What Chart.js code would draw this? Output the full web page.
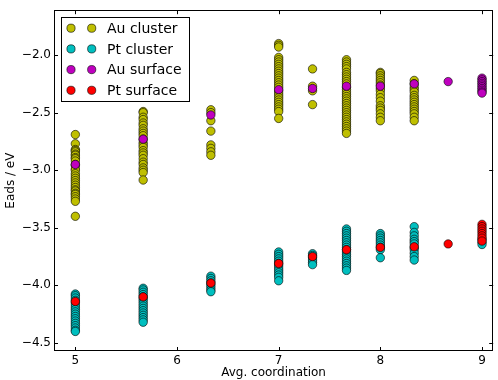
<!DOCTYPE html>
<html>
<head>
<meta charset="utf-8">
<script src="https://cdn.jsdelivr.net/npm/chart.js@4/dist/chart.umd.min.js"></script>
<style>
  html, body { margin: 0; padding: 0; background: #fff; }
  canvas { display: block; }
</style>
</head>
<body>
<canvas id="eads" width="498" height="380"></canvas>
<script>
// x positions (average coordination) shared by every series
const coordination = [5, 5.667, 6.333, 7, 7.333, 7.667, 8, 8.333, 8.667, 9];

// Eads values (eV) per coordination column
const auCluster = [
  [-2.69, -2.77, -2.82, -2.83, -2.84, -2.86, -2.87, -2.89, -2.90, -2.92, -2.95, -2.96, -2.99, -3.00, -3.03, -3.05, -3.07, -3.09, -3.11, -3.13, -3.15, -3.17, -3.18, -3.20, -3.21, -3.23, -3.25, -3.27, -3.40],
  [-2.49, -2.50, -2.54, -2.56, -2.59, -2.61, -2.64, -2.66, -2.68, -2.70, -2.73, -2.76, -2.78, -2.80, -2.83, -2.85, -2.87, -2.90, -2.93, -2.95, -2.98, -3.00, -3.02, -3.085],
  [-2.475, -2.50, -2.57, -2.66, -2.78, -2.81, -2.84, -2.87],
  [-1.90, -1.915, -1.93, -2.02, -2.04, -2.06, -2.08, -2.10, -2.12, -2.14, -2.16, -2.18, -2.20, -2.22, -2.24, -2.26, -2.28, -2.31, -2.33, -2.35, -2.37, -2.39, -2.41, -2.43, -2.45, -2.47, -2.49, -2.55],
  [-2.12, -2.27, -2.31, -2.43],
  [-2.04, -2.06, -2.08, -2.10, -2.12, -2.15, -2.17, -2.19, -2.21, -2.23, -2.25, -2.28, -2.30, -2.32, -2.34, -2.36, -2.38, -2.40, -2.42, -2.44, -2.46, -2.48, -2.50, -2.52, -2.54, -2.56, -2.58, -2.60, -2.62, -2.64, -2.66, -2.68],
  [-2.15, -2.16, -2.18, -2.20, -2.22, -2.24, -2.26, -2.29, -2.31, -2.34, -2.37, -2.40, -2.44, -2.46, -2.48, -2.51, -2.54, -2.57],
  [-2.22, -2.25, -2.28, -2.30, -2.32, -2.35, -2.37, -2.39, -2.41, -2.43, -2.45, -2.47, -2.49, -2.51, -2.54, -2.57],
  [],
  []
];
const ptCluster = [
  [-4.075, -4.09, -4.11, -4.13, -4.15, -4.17, -4.19, -4.21, -4.23, -4.25, -4.27, -4.29, -4.31, -4.33, -4.35, -4.37, -4.39, -4.40],
  [-4.025, -4.04, -4.06, -4.08, -4.10, -4.12, -4.14, -4.16, -4.18, -4.20, -4.22, -4.24, -4.26, -4.28, -4.30, -4.32],
  [-3.92, -3.94, -3.96, -3.98, -4.00, -4.02, -4.04, -4.055],
  [-3.71, -3.73, -3.75, -3.77, -3.79, -3.81, -3.83, -3.85, -3.87, -3.89, -3.91, -3.93, -3.96],
  [-3.725, -3.74, -3.76, -3.78, -3.80, -3.82],
  [-3.51, -3.53, -3.55, -3.57, -3.59, -3.61, -3.63, -3.65, -3.67, -3.69, -3.71, -3.73, -3.75, -3.77, -3.79, -3.81, -3.83, -3.85, -3.87],
  [-3.55, -3.57, -3.59, -3.61, -3.63, -3.65, -3.67, -3.69, -3.76],
  [-3.49, -3.54, -3.57, -3.60, -3.62, -3.64, -3.67, -3.69, -3.72, -3.75, -3.78],
  [],
  [-3.60, -3.625, -3.645]
];
const auSurface = [
  [-2.95], [-2.73], [-2.52], [-2.30], [-2.29], [-2.27], [-2.27], [-2.25], [-2.23],
  [-2.20, -2.215, -2.23, -2.245, -2.26, -2.275, -2.29, -2.305, -2.32, -2.33]
];
const ptSurface = [
  [-4.14], [-4.10], [-3.98], [-3.81], [-3.75], [-3.69], [-3.67], [-3.665], [-3.64],
  [-3.47, -3.49, -3.51, -3.53, -3.55, -3.57, -3.59, -3.615]
];

const seriesNames = ["Au cluster", "Pt cluster", "Au surface", "Pt surface"];
const xTicks = [5, 6, 7, 8, 9];
const yTicks = [-4.5, -4.0, -3.5, -3.0, -2.5, -2.0];

const colors = ["#bfbf00", "#00bfbf", "#bf00bf", "#ff0000"];
const FONT = "'DejaVu Sans', sans-serif";

const toPoints = cols => cols.flatMap((ys, i) => ys.map(y => ({ x: coordination[i], y })));
const minus = v => (v < 0 ? "\u2212" : "") + Math.abs(v).toFixed(1);

// matplotlib-ish frame: full box + inward ticks on all four sides
const framePlugin = {
  id: "frame",
  afterDraw(chart) {
    const { ctx, chartArea: a, scales } = chart;
    ctx.save();
    ctx.strokeStyle = "#000";
    ctx.lineWidth = 1;
    ctx.strokeRect(Math.round(a.left) + 0.5, Math.round(a.top) + 0.5,
      Math.round(a.right - a.left) - 1, Math.round(a.bottom - a.top) - 1);
    ctx.beginPath();
    const t = 4;
    scales.x.ticks.forEach(tk => {
      const px = Math.round(scales.x.getPixelForValue(tk.value)) + 0.5;
      ctx.moveTo(px, a.bottom); ctx.lineTo(px, a.bottom - t);
      ctx.moveTo(px, a.top); ctx.lineTo(px, a.top + t);
    });
    scales.y.ticks.forEach(tk => {
      const py = Math.round(scales.y.getPixelForValue(tk.value)) + 0.5;
      ctx.moveTo(a.left, py); ctx.lineTo(a.left + t, py);
      ctx.moveTo(a.right, py); ctx.lineTo(a.right - t, py);
    });
    ctx.stroke();

    // legend box inside the axes, two markers per entry
    const bx = a.left + 7, by = a.top + 7, bw = 128, bh = 84;
    ctx.fillStyle = "#fff";
    ctx.fillRect(bx, by, bw, bh);
    ctx.strokeRect(Math.round(bx) + 0.5, Math.round(by) + 0.5, bw, bh);
    ctx.font = "14px " + FONT;
    ctx.textBaseline = "middle";
    ctx.textAlign = "left";
    seriesNames.forEach((name, i) => {
      const cy = by + 11 + i * 20.7;
      [bx + 10, bx + 30.7].forEach(cx => {
        ctx.beginPath();
        ctx.arc(cx, cy, 4.1, 0, Math.PI * 2);
        ctx.fillStyle = colors[i];
        ctx.fill();
        ctx.lineWidth = 0.6;
        ctx.strokeStyle = "#000";
        ctx.stroke();
      });
      ctx.fillStyle = "#000";
      ctx.fillText(name, bx + 46, cy + 1);
    });
    ctx.restore();
  }
};

const makeSet = (label, cols, i, order) => ({
  label,
  data: toPoints(cols),
  backgroundColor: colors[i],
  borderColor: "#000",
  borderWidth: 0.6,
  pointRadius: 4.2,
  order
});

new Chart(document.getElementById("eads").getContext("2d"), {
  type: "scatter",
  data: {
    datasets: [
      makeSet(seriesNames[0], auCluster, 0, 4),
      makeSet(seriesNames[1], ptCluster, 1, 3),
      makeSet(seriesNames[2], auSurface, 2, 2),
      makeSet(seriesNames[3], ptSurface, 3, 1)
    ]
  },
  options: {
    responsive: false,
    animation: false,
    devicePixelRatio: 1,
    events: [],
    layout: { padding: { top: 7, right: 1.3, left: 0, bottom: 0 } },
    plugins: { legend: { display: false }, tooltip: { enabled: false } },
    scales: {
      x: {
        type: "linear",
        min: 4.79,
        max: 9.11,
        afterBuildTicks: s => { s.ticks = xTicks.map(v => ({ value: v })); },
        afterFit: s => { s.height = 29; },
        grid: { display: false, drawTicks: false },
        border: { display: false },
        ticks: { color: "#000", font: { family: FONT, size: 12 }, padding: 3, callback: v => String(v) },
        title: { display: true, text: "Avg. coordination", color: "#000", font: { family: FONT, size: 12 }, padding: { top: 0, bottom: 0 } }
      },
      y: {
        min: -4.57,
        max: -1.61,
        afterBuildTicks: s => { s.ticks = yTicks.map(v => ({ value: v })); },
        afterFit: s => { s.width = 54; },
        grid: { display: false, drawTicks: false },
        border: { display: false },
        ticks: { color: "#000", font: { family: FONT, size: 12 }, padding: 3, callback: v => minus(v) },
        title: { display: true, text: "Eads / eV", color: "#000", font: { family: FONT, size: 12 }, padding: { top: 4, bottom: 0 } }
      }
    }
  },
  plugins: [framePlugin]
});
</script>
</body>
</html>
